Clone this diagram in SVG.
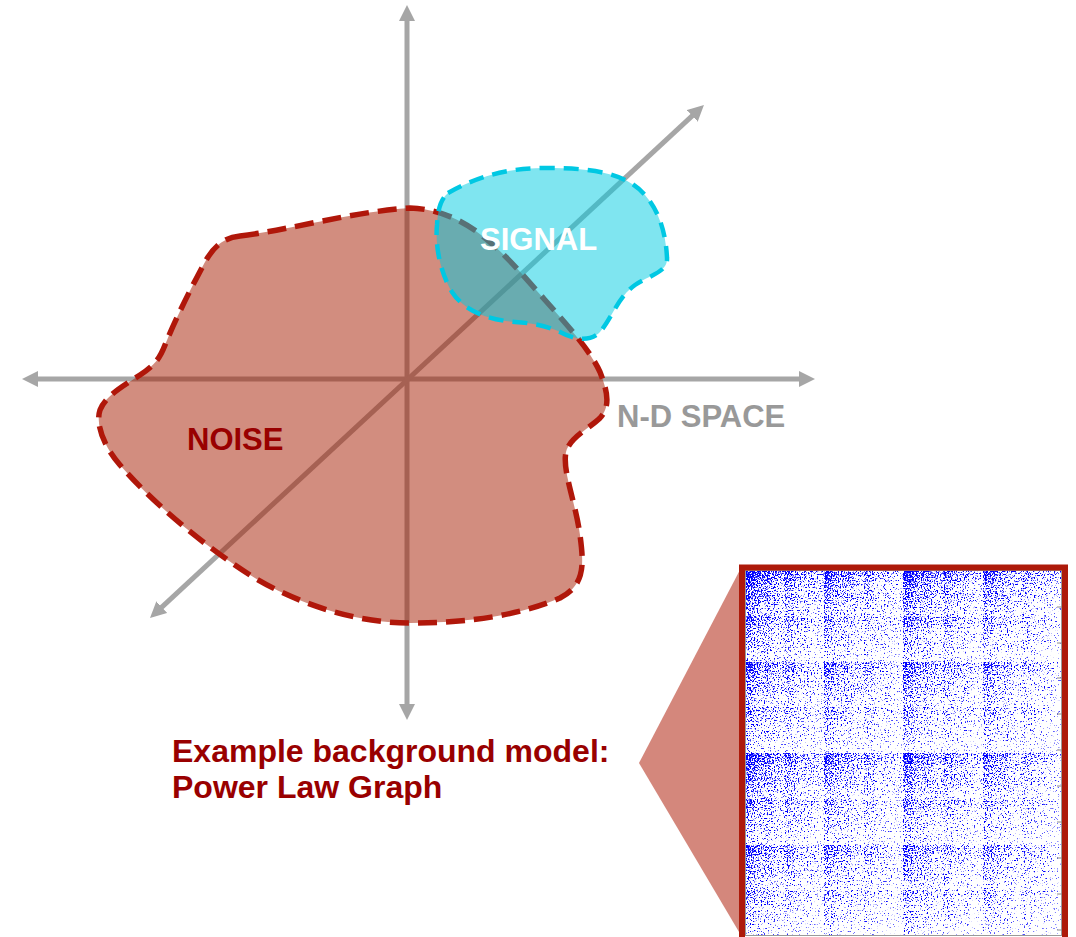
<svg xmlns="http://www.w3.org/2000/svg" width="1076" height="937" viewBox="0 0 1076 937">
<style>
.axis{stroke:#a6a6a6;stroke-width:5;fill:none;marker-start:url(#ah);marker-end:url(#ah)}
.lbl{font-family:"Liberation Sans",Arial,sans-serif;font-weight:bold}
.tick{stroke:#8a8a8a;stroke-width:1}
</style>
<defs>
<marker id="ah" viewBox="0 -8 16 16" refX="8" refY="0" markerWidth="16" markerHeight="16" markerUnits="userSpaceOnUse" orient="auto-start-reverse">
<path d="M0,-8 L16,0 L0,8 Z" fill="#a6a6a6"/>
</marker>
<filter id="speckle" filterUnits="userSpaceOnUse" x="745" y="570" width="317" height="366" color-interpolation-filters="sRGB">
<feTurbulence type="fractalNoise" baseFrequency="0.7" numOctaves="2" seed="7" result="n"/>
<feComponentTransfer in="n" result="n2"><feFuncA type="linear" slope="2.2" intercept="-0.6"/></feComponentTransfer>
<feComponentTransfer in="SourceAlpha" result="d"><feFuncA type="gamma" amplitude="1" exponent="0.62" offset="0"/></feComponentTransfer>
<feComposite in="d" in2="n2" operator="arithmetic" k1="0" k2="4" k3="-4" k4="0" result="m"/>
<feFlood flood-color="#0000ff"/>
<feComposite in2="m" operator="in"/>
</filter>
<rect id="c0" width="1" height="1" fill="#0000ff" shape-rendering="crispEdges"/>
<g id="L1"><use href="#c0"/><use href="#c0" x="1" opacity=".8"/><use href="#c0" y="1" opacity=".8"/><use href="#c0" x="1" y="1" opacity=".7"/></g>
<g id="L2"><use href="#L1"/><use href="#L1" x="2" opacity=".65"/><use href="#L1" y="2" opacity=".65"/><use href="#L1" x="2" y="2" opacity=".45"/></g>
<g id="L3"><use href="#L2"/><use href="#L2" x="4" opacity=".6"/><use href="#L2" y="4" opacity=".6"/><use href="#L2" x="4" y="4" opacity=".4"/></g>
<g id="L4"><use href="#L3"/><use href="#L3" x="8" opacity=".6"/><use href="#L3" y="8" opacity=".6"/><use href="#L3" x="8" y="8" opacity=".4"/></g>
<g id="L5"><use href="#L4"/><use href="#L4" x="16" opacity=".75"/><use href="#L4" y="16" opacity=".75"/><use href="#L4" x="16" y="16" opacity=".6"/></g>
<g id="L6"><use href="#L5"/><use href="#L5" x="32" opacity=".9"/><use href="#L5" y="32" opacity=".9"/><use href="#L5" x="32" y="32" opacity=".8"/></g>
</defs>
<rect width="1076" height="937" fill="#ffffff"/>

<g id="connectors">
<line class="axis" x1="407" y1="13" x2="407" y2="712"/>
<line class="axis" x1="30" y1="379" x2="807" y2="379"/>
<line class="axis" x1="155.9" y1="612.6" x2="698.1" y2="110.4"/>
</g>

<g id="noise">
<path d="M240,236 C290,230 350,212 410,208 C470,210 505,255 545,300 C568,326 590,350 600,372 C606,388 612,405 600,418 C590,428 570,437 566,452 C562,470 575,500 580,535 C584,565 585,585 560,598 C520,615 470,623 410,623 C350,623 290,600 250,575 C200,543 150,500 120,465 C105,448 95,425 100,410 C106,395 125,385 140,375 C155,365 160,358 165,345 C175,320 190,290 205,262 C213,248 222,238 240,236 Z" fill="#a61c00" fill-opacity="0.5" stroke="#b0170a" stroke-width="5.5" stroke-dasharray="19 9"/>
<text class="lbl" x="187" y="450" font-size="31" fill="#990000">NOISE</text>
</g>

<g id="signal">
<path d="M448,193 C480,175 510,168 545,168 C590,168 625,172 645,195 C660,212 666,235 667,258 C668,272 650,275 635,285 C618,297 612,318 600,332 C590,342 575,340 560,332 C545,325 530,323 515,322 C490,320 465,312 452,292 C440,272 435,245 437,225 C438,210 440,200 448,193 Z" fill="#00cce2" fill-opacity="0.5" stroke="#00c8e3" stroke-width="4.5" stroke-dasharray="15 9"/>
<text class="lbl" x="480" y="250" font-size="31" fill="#ffffff">SIGNAL</text>
</g>

<g id="space-label">
<text class="lbl" x="617" y="427" font-size="31" fill="#999999">N-D SPACE</text>
</g>

<g id="model-label">
<text class="lbl" x="172" y="762" font-size="32" fill="#990000">Example background model:</text>
<text class="lbl" x="172" y="798" font-size="32" fill="#990000">Power Law Graph</text>
</g>

<g id="callout">
<polygon points="639,763 742,566 742,937" fill="#d4877c"/>
</g>

<g id="matrix">
<rect x="742" y="567" width="324" height="375" fill="#ffffff"/>
<g filter="url(#speckle)">
<g transform="translate(745,570) scale(4.953,5.719)"><use href="#L6"/></g>
</g>
<rect x="745.5" y="570.5" width="316" height="365" fill="none" stroke="#9a9a9a" stroke-width="1"/>
<g class="tick">
<line x1="1057" y1="607" x2="1062" y2="607"/><line x1="1057" y1="643" x2="1062" y2="643"/><line x1="1057" y1="678" x2="1062" y2="678"/><line x1="1057" y1="714" x2="1062" y2="714"/><line x1="1057" y1="750" x2="1062" y2="750"/><line x1="1057" y1="786" x2="1062" y2="786"/><line x1="1057" y1="822" x2="1062" y2="822"/><line x1="1057" y1="858" x2="1062" y2="858"/><line x1="1057" y1="894" x2="1062" y2="894"/><line x1="1057" y1="930" x2="1062" y2="930"/>
</g>
<rect x="742" y="567.5" width="323" height="375" fill="none" stroke="#ad1a0a" stroke-width="6"/>
</g>
</svg>
